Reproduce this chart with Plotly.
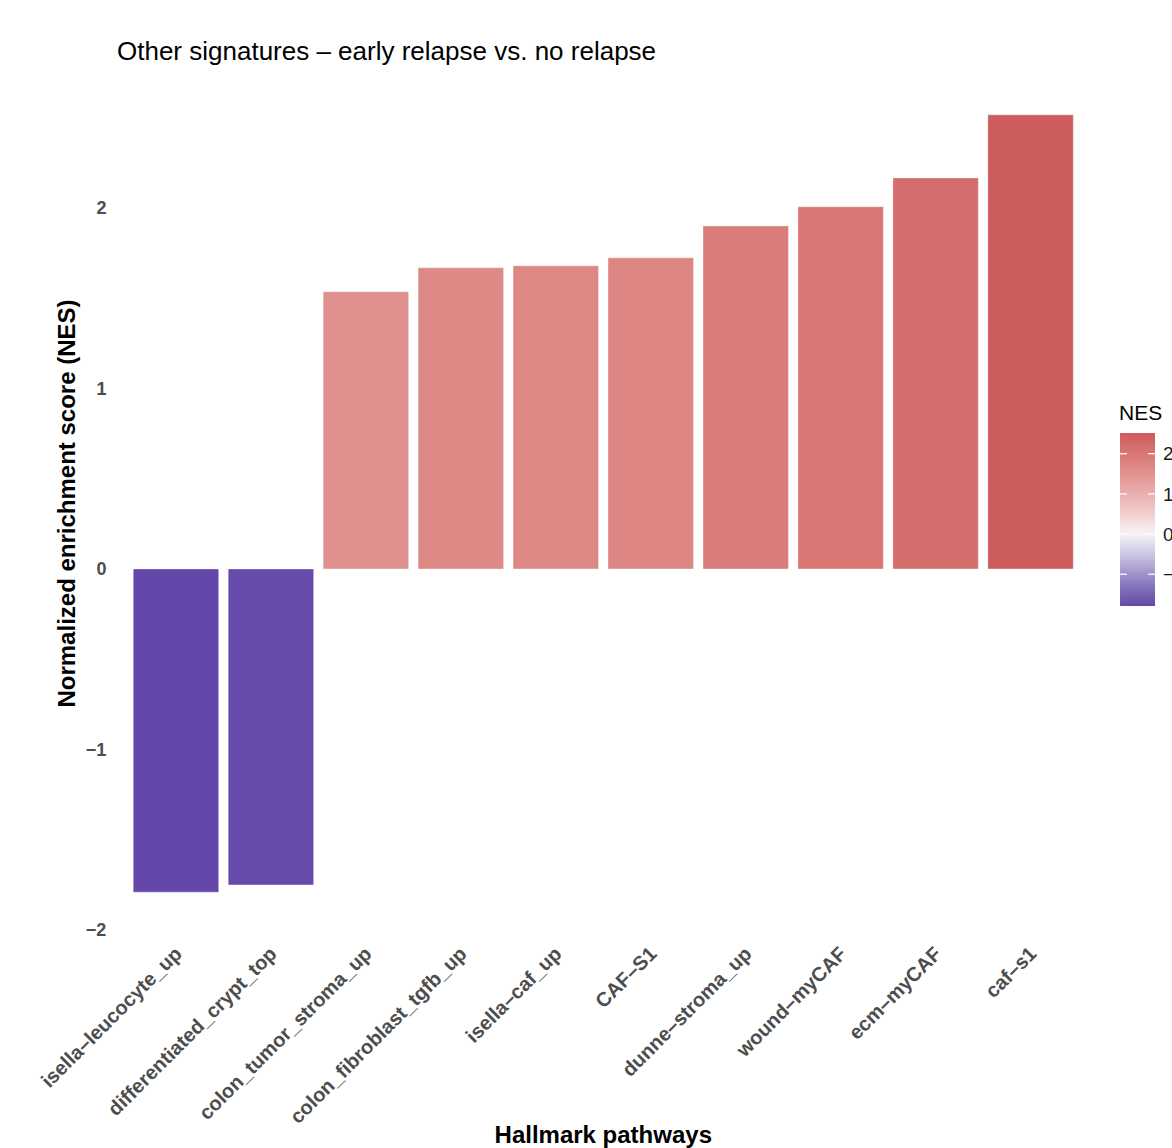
import numpy as np
import plotly.graph_objects as go

# Normalized enrichment scores per signature (sorted ascending)
pathways = [
    "isella–leucocyte_up",
    "differentiated_crypt_top",
    "colon_tumor_stroma_up",
    "colon_fibroblast_tgfb_up",
    "isella–caf_up",
    "CAF–S1",
    "dunne–stroma_up",
    "wound–myCAF",
    "ecm–myCAF",
    "caf–s1",
]
nes = [-1.79, -1.75, 1.535, 1.668, 1.679, 1.723, 1.90, 2.006, 2.166, 2.515]

legend_ticks = [2, 1, 0, -1]
legend_labels = ["2", "1", "0", "−1"]

FONT = "Liberation Sans, Arial, sans-serif"
W, H = 1172, 1148
ML, MT, MB = 118.5, 76, 217
PLOT_R = 1087.5  # right edge of the bar panel in px

cmin, cmax = min(nes), max(nes)


def pos(v):
    return (v - cmin) / (cmax - cmin)


# diverging purple -> white -> indian red scale, white centred at 0
colorscale = [
    [0.0, "#6447a8"],
    [pos(-1.2), "#8c7cc0"],
    [pos(-0.6), "#c3bbe0"],
    [pos(0.0), "#f6f4f7"],
    [pos(0.6), "#f0c9c7"],
    [pos(1.2), "#e6a4a2"],
    [pos(1.8), "#dc817e"],
    [1.0, "#cd5c5c"],
]

fig = go.Figure()

fig.add_trace(go.Bar(
    x=pathways,
    y=nes,
    width=0.9,
    marker=dict(color=nes, colorscale=colorscale, cmin=cmin, cmax=cmax,
                showscale=False, line=dict(width=0.6, color="rgba(255,255,255,0.6)")),
    xaxis="x", yaxis="y",
    hovertemplate="%{x}<br>NES=%{y}<extra></extra>",
))

# legend colour ramp drawn as a one-column heatmap
ramp = np.linspace(cmin, cmax, 300)
fig.add_trace(go.Heatmap(
    z=ramp.reshape(-1, 1),
    x=[0],
    y=ramp,
    colorscale=colorscale,
    zmin=cmin, zmax=cmax,
    showscale=False,
    xaxis="x2", yaxis="y2",
    hoverinfo="skip",
))

paper_w = W - ML
dom_x_main = [0, (PLOT_R - ML) / paper_w]
cb_left, cb_right = 1120, 1155
cb_top, cb_bot = 433, 606
panel_h = H - MT - MB
dom_x_cb = [(cb_left - ML) / paper_w, (cb_right - ML) / paper_w]
dom_y_cb = [(H - MB - cb_bot) / panel_h, (H - MB - cb_top) / panel_h]

span = cmax - cmin
fig.update_layout(
    width=W, height=H,
    margin=dict(l=ML, r=0, t=MT, b=MB, autoexpand=False),
    paper_bgcolor="white",
    plot_bgcolor="white",
    showlegend=False,
    font=dict(family=FONT, color="#000000"),
    title=dict(
        text="Other signatures – early relapse vs. no relapse",
        xref="container", x=117 / W, xanchor="left",
        yref="container", y=1 - 51 / H, yanchor="middle",
        font=dict(size=26, color="#000000"),
    ),
    xaxis=dict(
        domain=dom_x_main,
        range=[-0.6, len(pathways) - 0.4],
        showgrid=False, zeroline=False, showline=False,
        ticks="outside", ticklen=2, tickcolor="rgba(0,0,0,0)",
        tickangle=-45,
        tickfont=dict(size=20, color="#4d4d4d", family=FONT, weight="bold"),
        title=dict(text="Hallmark pathways", standoff=26,
                   font=dict(size=24, color="#000000", weight="bold")),
        automargin=False,
    ),
    yaxis=dict(
        range=[cmin - 0.05 * span, cmax + 0.05 * span],
        showgrid=False, zeroline=False, showline=False,
        tickvals=[-2, -1, 0, 1, 2],
        ticktext=["−2", "−1", "0", "1", "2"],
        ticks="outside", ticklen=8, tickcolor="rgba(0,0,0,0)",
        tickfont=dict(size=18, color="#4d4d4d", family=FONT, weight="bold"),
        title=dict(text="Normalized enrichment score (NES)", standoff=3,
                   font=dict(size=24, color="#000000", weight="bold")),
        automargin=False,
    ),
    xaxis2=dict(
        domain=dom_x_cb, anchor="y2", range=[-0.5, 0.5],
        showgrid=False, zeroline=False, showline=False,
        showticklabels=False, ticks="", fixedrange=True,
    ),
    yaxis2=dict(
        domain=dom_y_cb, anchor="x2", side="right",
        range=[cmin, cmax],
        showgrid=False, zeroline=False, showline=False,
        tickvals=legend_ticks, ticktext=legend_labels,
        ticks="", ticklabelstandoff=7,
        tickfont=dict(size=19, color="#1a1a1a", family=FONT),
        fixedrange=True, automargin=False,
    ),
)

# white tick marks on both edges of the colour ramp
for v in legend_ticks:
    for x0, x1 in [(-0.5, -0.3), (0.3, 0.5)]:
        fig.add_shape(type="line", xref="x2", yref="y2",
                      x0=x0, x1=x1, y0=v, y1=v,
                      line=dict(color="white", width=1.2))

fig.add_annotation(
    text="NES", xref="paper", yref="paper",
    x=(cb_left - 3 - ML) / paper_w, xanchor="left",
    y=(H - MB - 412) / panel_h, yanchor="middle",
    showarrow=False, font=dict(size=21, color="#000000", family=FONT),
)

fig.write_html("out.html")
